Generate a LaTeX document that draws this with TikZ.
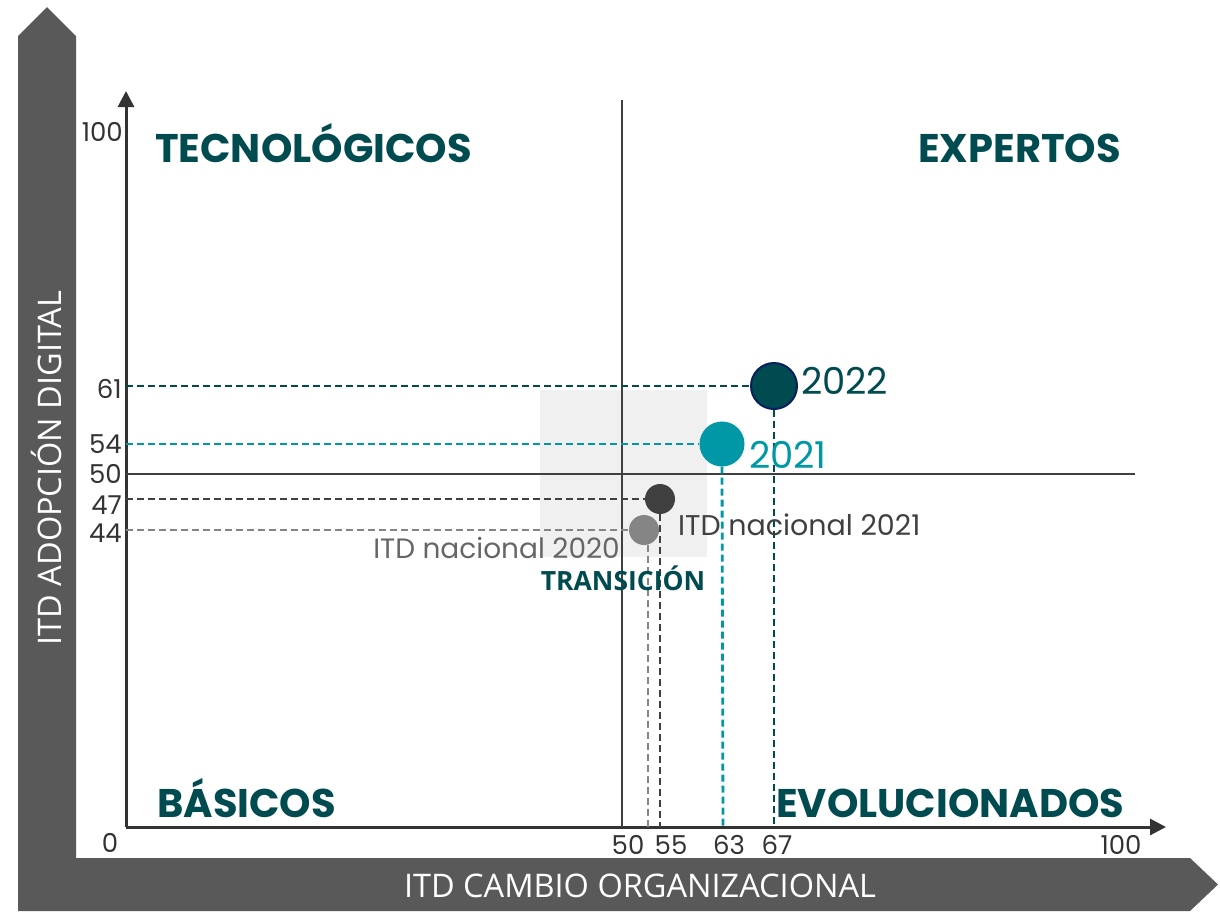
\documentclass[tikz,border=0pt]{standalone}
\usepackage{fontspec}
\usetikzlibrary{arrows.meta}
\setmainfont{Poppins}
\newfontfamily\osans{Open Sans}
\definecolor{dteal}{HTML}{004B50}
\definecolor{teal21}{HTML}{0098A6}
\definecolor{dgray}{HTML}{404040}
\definecolor{mgray}{HTML}{858585}
\definecolor{bargray}{HTML}{595959}
\definecolor{axisgray}{HTML}{333333}
\definecolor{navy}{HTML}{0B1F5E}
\definecolor{boxgray}{HTML}{F0F0F0}
\begin{document}
\begin{tikzpicture}[x=1pt,y=-1pt,
  quad/.style={font=\fontsize{40}{46}\selectfont\bfseries, text=dteal, inner sep=0pt},
  tick/.style={font=\fontsize{26}{30}\selectfont, text=axisgray, inner sep=0pt},
  dot/.style={circle, inner sep=0pt, minimum size=#1},
  guide/.style={line width=2.8pt, dash pattern=on 7pt off 4pt},
  barlabel/.style={font=\osans\fontsize{32.5}{36}\selectfont, text=white, inner sep=0pt}]
\useasboundingbox (0,0) rectangle (1220,911);
% side bars
\fill[bargray] (18,911) -- (18,36) -- (47,7) -- (76,36) -- (76,911) -- cycle;
\fill[bargray] (76,858) -- (1190,858) -- (1218,884.5) -- (1190,911) -- (76,911) -- cycle;
\node[barlabel, rotate=90] (ylab) at (47,468) {ITD ADOPCIÓN DIGITAL};
\node[barlabel] (xlab) at (640,886) {ITD CAMBIO ORGANIZACIONAL};
% transition box
\fill[boxgray] (540,390) rectangle (707,557);
% axes
\coordinate (O) at (126,827);
\coordinate (ytop) at (126,91);
\coordinate (xend) at (1166,827);
\draw[axisgray, line width=3pt, -{Triangle[length=16pt,width=16pt]}] (O) -- (ytop);
\draw[axisgray, line width=3pt, -{Triangle[length=16pt,width=16pt]}] (O) -- (xend);
% mid lines
\coordinate (vtop) at (622,100);
\coordinate (vbot) at (622,827);
\coordinate (hl) at (126,474);
\coordinate (hr) at (1135,474);
\draw[dgray, line width=2.3pt] (vtop) -- (vbot);
\draw[dgray, line width=2.3pt] (hl) -- (hr);
% points
\node[dot=46pt, fill=dteal, draw=navy, line width=2pt] (p22) at (774,386) {};
\node[dot=45pt, fill=teal21] (p21) at (722,444) {};
\node[dot=30pt, fill=dgray] (n21) at (660,499) {};
\node[dot=30pt, fill=mgray] (n20) at (644,530) {};
% guide coordinates
\coordinate (y61) at (126,386);
\coordinate (y54) at (126,444);
\coordinate (y47) at (126,499);
\coordinate (y44) at (126,530);
\coordinate (x67) at (774,827);
\coordinate (x63) at (723,827);
\coordinate (x55) at (660,827);
\coordinate (x51) at (648,827);
\draw[guide, dteal] (y61) -- (p22.west);
\draw[guide, dteal] (p22.south) -- (x67);
\draw[guide, teal21] (y54) -- (p21.west);
\draw[guide, teal21] (p21.south) -- (x63);
\draw[guide, dgray] (y47) -- (n21.west);
\draw[guide, dgray] (n21.south) -- (x55);
\draw[guide, mgray] (y44) -- (n20.west);
\draw[guide, mgray] (n20.south -| x51) -- (x51);
% point labels
\node[font=\fontsize{37}{42}\selectfont, text=dteal, anchor=base west, inner sep=0pt] (l22) at (801,394) {2022};
\node[font=\fontsize{37}{42}\selectfont, text=teal21, anchor=base west, inner sep=0pt] (l21) at (749,468) {2021};
\node[font=\fontsize{28.5}{32}\selectfont, text=dgray, anchor=base west, inner sep=0pt] (ln21) at (678,535) {ITD nacional 2021};
\node[font=\fontsize{28}{32}\selectfont, text=dgray!80, anchor=base east, inner sep=0pt] (ln20) at (620,558) {ITD nacional 2020};
\node[font=\osans\fontsize{26.5}{30}\selectfont\bfseries, text=dteal, anchor=base, inner sep=0pt] (trans) at (623,590) {TRANSICIÓN};
% quadrant labels
\node[quad, anchor=base west] (tec) at (155,162) {TECNOLÓGICOS};
\node[quad, anchor=base east] (exp) at (1121,162) {EXPERTOS};
\node[quad, anchor=base west] (bas) at (157,817) {BÁSICOS};
\node[quad, anchor=base west] (evo) at (776,817) {EVOLUCIONADOS};
% tick labels y
\node[tick, anchor=east] (t100) at (123,132) {100};
\node[tick, anchor=east] (t61) at (122,389) {61};
\node[tick, anchor=east] (t54) at (122,444) {54};
\node[tick, anchor=east] (t50) at (122,474) {50};
\node[tick, anchor=east] (t47) at (122,505) {47};
\node[tick, anchor=east] (t44) at (122,533) {44};
\node[tick] (t0) at (110,843) {0};
% tick labels x
\node[tick] (b50) at (628,845) {50};
\node[tick] (b55) at (671,845) {55};
\node[tick] (b63) at (729,845) {63};
\node[tick] (b67) at (777,845) {67};
\node[tick] (b100) at (1121,845) {100};
\end{tikzpicture}
\end{document}
